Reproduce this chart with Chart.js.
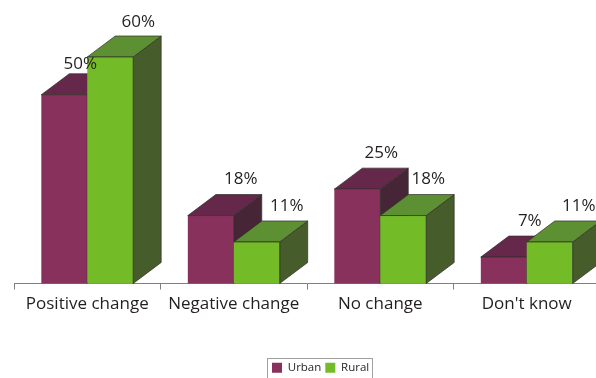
<!DOCTYPE html>
<html>
<head>
<meta charset="utf-8">
<style>
  html, body { margin: 0; padding: 0; width: 596px; height: 378px; overflow: hidden; background: #fff; }
  #chart-wrap { width: 610px; height: 378px; }
</style>
<script src="https://cdn.jsdelivr.net/npm/chart.js@4/dist/chart.umd.min.js"></script>
</head>
<body>
<div id="chart-wrap"><canvas id="myChart" width="610" height="378"></canvas></div>
<script>
var categories = ['Positive change', 'Negative change', 'No change', "Don't know"];
var urbanValues = [50, 18, 25, 7];
var ruralValues = [60, 11, 18, 11];

var seriesNames = ['Urban', 'Rural'];
var FONT = '"Open Sans", sans-serif';
var DEPTH_X = 28, DEPTH_Y = 21;

// front, top and side colours for each series
var faces = [
  { front: '#89315d', top: '#65284a', side: '#462636' },
  { front: '#74bb28', top: '#5d8f33', side: '#465d2b' }
];
// the value labels sit by hand in the original, nudges from the default spot
var labelNudge = [
  [[-12, 5], [2, 0], [-4, 0], [-2, 0]],
  [[0, 1], [2, 0], [-3, 0], [1, 0]]
];

function poly(ctx, pts, fill) {
  ctx.beginPath();
  ctx.moveTo(pts[0][0], pts[0][1]);
  for (var i = 1; i < pts.length; i++) ctx.lineTo(pts[i][0], pts[i][1]);
  ctx.closePath();
  ctx.fillStyle = fill;
  ctx.fill();
  ctx.lineWidth = 0.7;
  ctx.strokeStyle = '#2e2e2a';
  ctx.stroke();
}

var bars3d = {
  id: 'bars3d',
  afterLayout: function(chart) {
    // legend box is placed by hand, it runs off the bottom of the picture
    var lg = chart.legend;
    lg.left = 268; lg.right = 400; lg.top = 358; lg.bottom = 378;
  },
  beforeDatasetDraw: function() { return false; },
  afterDatasetsDraw: function(chart) {
    var ctx = chart.ctx;
    ctx.save();
    [0, 1].forEach(function(s) {
      chart.getDatasetMeta(s).data.forEach(function(bar) {
        var l = bar.x - bar.width / 2, r = bar.x + bar.width / 2, t = bar.y, b = bar.base;
        poly(ctx, [[r, t], [r + DEPTH_X, t - DEPTH_Y], [r + DEPTH_X, b - DEPTH_Y], [r, b]], faces[s].side);
        poly(ctx, [[l, t], [l + DEPTH_X, t - DEPTH_Y], [r + DEPTH_X, t - DEPTH_Y], [r, t]], faces[s].top);
        bar.draw(ctx);
        ctx.beginPath();
        ctx.moveTo(l, t); ctx.lineTo(r, t); ctx.lineTo(r, b);
        ctx.lineWidth = 0.7;
        ctx.strokeStyle = '#2e2e2a';
        ctx.stroke();
      });
    });
    // value labels go on top of everything
    ctx.font = '17px ' + FONT;
    ctx.fillStyle = '#231f20';
    ctx.textAlign = 'center';
    ctx.textBaseline = 'middle';
    [0, 1].forEach(function(s) {
      chart.getDatasetMeta(s).data.forEach(function(bar, i) {
        var v = chart.data.datasets[s].data[i];
        var n = labelNudge[s][i];
        ctx.fillText(v + '%', bar.x + 28 + n[0], bar.y - 36 + n[1]);
      });
    });
    ctx.restore();
  },
  afterDraw: function(chart) {
    var lg = chart.legend, ctx = chart.ctx;
    ctx.save();
    ctx.strokeStyle = '#a0a0a0';
    ctx.lineWidth = 1;
    ctx.strokeRect(267.5, lg.top + 0.5, 105, 30);
    ctx.restore();
  }
};

var ctx = document.getElementById('myChart').getContext('2d');
var myChart = new Chart(ctx, {
  type: 'bar',
  data: {
    labels: categories,
    datasets: [
      { label: seriesNames[0], data: urbanValues, backgroundColor: faces[0].front, borderWidth: 0 },
      { label: seriesNames[1], data: ruralValues, backgroundColor: faces[1].front, borderWidth: 0 }
    ]
  },
  options: {
    responsive: false,
    animation: false,
    layout: { padding: { left: 14, right: 10, top: 57, bottom: 0 } },
    datasets: { bar: { barPercentage: 1, categoryPercentage: 0.627 } },
    plugins: {
      tooltip: { enabled: false },
      legend: {
        position: 'bottom',
        align: 'start',
        labels: {
          boxWidth: 10, boxHeight: 10, padding: 4,
          color: '#231f20',
          font: { family: FONT, size: 11.5 }
        }
      }
    },
    scales: {
      x: {
        afterFit: function(scale) { scale.height = 69; },
        border: { color: '#7f7f7f', width: 1 },
        grid: { drawOnChartArea: false, drawTicks: true, tickLength: 6, color: '#7f7f7f' },
        ticks: { color: '#231f20', padding: 4, maxRotation: 0, font: { family: FONT, size: 17 } }
      },
      y: { display: false, min: 0, max: 60 }
    }
  },
  plugins: [bars3d]
});
</script>
</body>
</html>
